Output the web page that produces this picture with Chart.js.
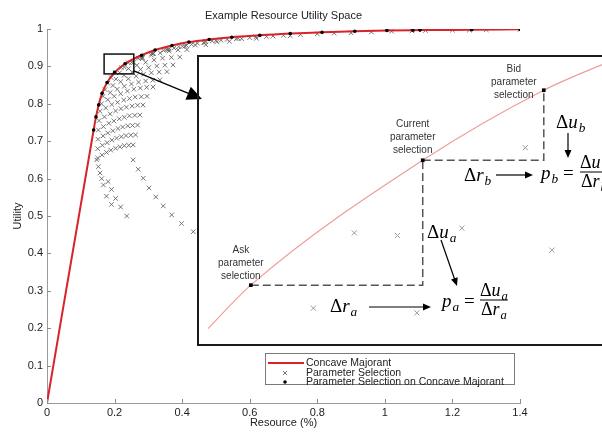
<!DOCTYPE html>
<html>
<head>
<meta charset="utf-8">
<script src="https://cdn.jsdelivr.net/npm/chart.js@4.4.1/dist/chart.umd.min.js"></script>
<style>
html, body { margin: 0; padding: 0; overflow: hidden; background: #fff; }
#wrap { position: relative; width: 602px; height: 432px; overflow: hidden; }
#main { position: absolute; left: 0; top: 0; }
#insetBox { position: absolute; left: 197px; top: 55px; width: 420px; height: 287px; border: 2px solid #1a1a1a; background: #fff; overflow: hidden; }
#inset { display: block; }
</style>
</head>
<body>
<div id="wrap">
<canvas id="main" width="602" height="432"></canvas>
<div id="insetBox"><canvas id="inset" width="420" height="287"></canvas></div>
</div>
<script>
// concave majorant (resource, utility)
const majorantX = [0, 0.138, 0.145, 0.153, 0.163, 0.178, 0.200, 0.231, 0.280, 0.320, 0.370, 0.420, 0.480, 0.547, 0.630, 0.720, 0.814, 0.911, 1.006, 1.104, 1.257, 1.400];
const majorantY = [0, 0.730, 0.765, 0.797, 0.828, 0.857, 0.884, 0.907, 0.930, 0.944, 0.956, 0.965, 0.972, 0.978, 0.983, 0.988, 0.991, 0.994, 0.996, 0.997, 0.998, 0.999];

// parameter selections, one row per sweep
const arcX = [
  [0.150, 0.163, 0.176, 0.189, 0.203, 0.216, 0.229, 0.242, 0.255],
  [0.150, 0.164, 0.178, 0.192, 0.206, 0.220, 0.234, 0.248, 0.262],
  [0.151, 0.166, 0.180, 0.195, 0.210, 0.224, 0.239, 0.253, 0.268],
  [0.152, 0.167, 0.183, 0.198, 0.214, 0.229, 0.244, 0.260, 0.275],
  [0.154, 0.170, 0.187, 0.203, 0.219, 0.235, 0.252, 0.268, 0.284],
  [0.157, 0.174, 0.192, 0.209, 0.227, 0.244, 0.261, 0.279, 0.296],
  [0.161, 0.180, 0.199, 0.218, 0.238, 0.257, 0.276, 0.295, 0.314],
  [0.166, 0.187, 0.208, 0.229, 0.250, 0.271, 0.292, 0.313, 0.334],
  [0.172, 0.195, 0.218, 0.241, 0.264, 0.286, 0.309, 0.332, 0.355],
  [0.180, 0.204, 0.228, 0.252, 0.277, 0.301, 0.325, 0.349, 0.373],
  [0.190, 0.215, 0.241, 0.266, 0.292, 0.317, 0.342, 0.368, 0.393],
  [0.203, 0.229, 0.256, 0.282, 0.309, 0.335, 0.361, 0.388, 0.414],
  [0.220, 0.251, 0.283, 0.314, 0.345, 0.376, 0.408, 0.439, 0.470],
  [0.240, 0.278, 0.315, 0.353, 0.390, 0.428, 0.465, 0.503, 0.540],
  [0.270, 0.314, 0.358, 0.401, 0.445, 0.489, 0.533, 0.576, 0.620],
  [0.310, 0.361, 0.413, 0.464, 0.515, 0.566, 0.618, 0.669, 0.720]
];
const arcY = [
  [0.655, 0.663, 0.670, 0.676, 0.681, 0.685, 0.688, 0.689, 0.690],
  [0.680, 0.689, 0.696, 0.703, 0.708, 0.712, 0.715, 0.716, 0.717],
  [0.705, 0.714, 0.722, 0.728, 0.734, 0.738, 0.741, 0.742, 0.743],
  [0.730, 0.739, 0.748, 0.754, 0.760, 0.764, 0.768, 0.769, 0.770],
  [0.755, 0.765, 0.773, 0.781, 0.787, 0.791, 0.794, 0.796, 0.797],
  [0.780, 0.789, 0.798, 0.804, 0.810, 0.814, 0.818, 0.819, 0.820],
  [0.800, 0.811, 0.820, 0.827, 0.834, 0.839, 0.842, 0.844, 0.845],
  [0.820, 0.830, 0.839, 0.847, 0.853, 0.858, 0.861, 0.863, 0.864],
  [0.838, 0.849, 0.859, 0.867, 0.874, 0.879, 0.883, 0.885, 0.886],
  [0.855, 0.866, 0.876, 0.885, 0.892, 0.897, 0.901, 0.903, 0.904],
  [0.870, 0.883, 0.894, 0.903, 0.911, 0.917, 0.922, 0.924, 0.925],
  [0.883, 0.898, 0.910, 0.921, 0.930, 0.936, 0.941, 0.944, 0.945],
  [0.897, 0.911, 0.924, 0.934, 0.943, 0.949, 0.954, 0.957, 0.958],
  [0.910, 0.923, 0.935, 0.945, 0.953, 0.959, 0.963, 0.966, 0.967],
  [0.922, 0.934, 0.945, 0.954, 0.962, 0.968, 0.972, 0.974, 0.975],
  [0.935, 0.946, 0.956, 0.964, 0.970, 0.975, 0.979, 0.981, 0.982]
];
const tailX = [0.147, 0.152, 0.157, 0.162, 0.167, 0.176, 0.181, 0.191, 0.203, 0.191, 0.218, 0.236, 0.255, 0.270, 0.285, 0.302, 0.322, 0.344, 0.369, 0.398, 0.433];
const tailY = [0.650, 0.632, 0.615, 0.600, 0.583, 0.553, 0.592, 0.571, 0.547, 0.531, 0.524, 0.500, 0.650, 0.625, 0.601, 0.575, 0.551, 0.527, 0.503, 0.480, 0.458];
const topX = [0.470, 0.500, 0.560, 0.600, 0.650, 0.700, 0.750, 0.800, 0.850, 0.900, 0.960, 1.020, 1.080, 1.120, 1.200, 1.250, 1.300, 1.400];
const topY = [0.966, 0.969, 0.974, 0.977, 0.980, 0.983, 0.985, 0.987, 0.989, 0.990, 0.992, 0.994, 0.995, 0.996, 0.997, 0.997, 0.998, 0.999];

// selections that sit on the majorant
const onX = [0.138, 0.145, 0.153, 0.163, 0.178, 0.200, 0.231, 0.280, 0.320, 0.370, 0.420, 0.480, 0.547, 0.630, 0.720, 0.814, 0.911, 1.006, 1.083, 1.104, 1.257, 1.400];
const onY = [0.730, 0.765, 0.797, 0.828, 0.857, 0.884, 0.907, 0.930, 0.944, 0.956, 0.965, 0.972, 0.978, 0.983, 0.988, 0.991, 0.994, 0.996, 0.9965, 0.997, 0.998, 0.999];

const xTicks = [0, 0.2, 0.4, 0.6, 0.8, 1, 1.2, 1.4];
const yTicks = [0, 0.1, 0.2, 0.3, 0.4, 0.5, 0.6, 0.7, 0.8, 0.9, 1];

// zoomed region shown in the inset
const zoomX = [0.169, 0.2601];
const zoomY = [0.88, 0.933];
const curveX = [0.1699, 0.1794, 0.2176, 0.2445, 0.2599];
const curveY = [0.8820, 0.8903, 0.9142, 0.9276, 0.9334];
const quoteNames = ['Ask', 'Current', 'Bid'];
const quoteX = [0.1794, 0.2176, 0.2445];
const quoteY = [0.8903, 0.9142, 0.9276];
const insetSelX = [0.2404, 0.2024, 0.2120, 0.2263, 0.2463, 0.1933, 0.2163];
const insetSelY = [0.9166, 0.9003, 0.8998, 0.9012, 0.8970, 0.8859, 0.8850];

const pts = (xs, ys) => xs.map((x, i) => ({ x: x, y: ys[i] }));
const selection = pts(arcX.flat(), arcY.flat()).concat(pts(tailX, tailY), pts(topX, topY));

const SANS = '"Liberation Sans", Arial, sans-serif';
const SERIF = '"Liberation Serif", "Times New Roman", serif';
const RED = '#d9232a';
const GREY_X = '#666';

// arrow from the zoom box to the inset, in page pixels
const POINTER_TIP = { x: 202, y: 99 };
const INSET_ORIGIN = { x: 199, y: 57 };

function arrowHead(ctx, x0, y0, x1, y1, len, half) {
  const a = Math.atan2(y1 - y0, x1 - x0);
  ctx.beginPath();
  ctx.moveTo(x1, y1);
  ctx.lineTo(x1 - len * Math.cos(a) + half * Math.sin(a), y1 - len * Math.sin(a) - half * Math.cos(a));
  ctx.lineTo(x1 - len * Math.cos(a) - half * Math.sin(a), y1 - len * Math.sin(a) + half * Math.cos(a));
  ctx.closePath();
  ctx.fill();
}

function arrow(ctx, x0, y0, x1, y1, len, half, lw) {
  const a = Math.atan2(y1 - y0, x1 - x0);
  ctx.save();
  ctx.strokeStyle = '#000';
  ctx.fillStyle = '#000';
  ctx.lineWidth = lw;
  ctx.beginPath();
  ctx.moveTo(x0, y0);
  ctx.lineTo(x1 - len * 0.8 * Math.cos(a), y1 - len * 0.8 * Math.sin(a));
  ctx.stroke();
  arrowHead(ctx, x0, y0, x1, y1, len, half);
  ctx.restore();
}

function drawPointer(ctx, startX, startY, ox, oy) {
  arrow(ctx, startX - ox, startY - oy, POINTER_TIP.x - ox, POINTER_TIP.y - oy, 15, 7, 1.2);
}

const tickLabel = v => String(Math.round(v * 10) / 10);

const mainDecor = {
  id: 'mainDecor',
  afterDraw(chart) {
    const { ctx, chartArea: ca, scales: { x, y } } = chart;
    ctx.save();
    // inward ticks
    ctx.strokeStyle = '#8c8c8c';
    ctx.lineWidth = 1;
    ctx.beginPath();
    xTicks.forEach(v => { const px = Math.round(x.getPixelForValue(v)) + 0.5; ctx.moveTo(px, ca.bottom); ctx.lineTo(px, ca.bottom - 4); });
    yTicks.forEach(v => { const py = Math.round(y.getPixelForValue(v)) + 0.5; ctx.moveTo(ca.left, py); ctx.lineTo(ca.left + 4, py); });
    ctx.stroke();

    // titles
    ctx.fillStyle = '#222';
    ctx.textAlign = 'center';
    ctx.textBaseline = 'middle';
    ctx.font = '11px ' + SANS;
    ctx.fillText('Example Resource Utility Space', (ca.left + ca.right) / 2, 16);
    ctx.fillText('Resource (%)', (ca.left + ca.right) / 2, 423);
    ctx.save();
    ctx.translate(18, (ca.top + ca.bottom) / 2);
    ctx.rotate(-Math.PI / 2);
    ctx.fillText('Utility', 0, 0);
    ctx.restore();

    // zoom box
    const bx0 = x.getPixelForValue(zoomX[0]), bx1 = x.getPixelForValue(zoomX[0] + (zoomX[1] - zoomX[0]) * 0.965);
    const by0 = y.getPixelForValue(zoomY[1]), by1 = y.getPixelForValue(zoomY[0]);
    ctx.strokeStyle = '#111';
    ctx.lineWidth = 1.5;
    ctx.strokeRect(bx0, by0, bx1 - bx0, by1 - by0);
    drawPointer(ctx, bx1, by1 - 3, 0, 0);

    // legend
    const ds = chart.data.datasets;
    const lx = 265, ly = 353, lw = 249, lh = 31;
    ctx.fillStyle = '#fff';
    ctx.fillRect(lx, ly, lw, lh);
    ctx.strokeStyle = '#7a7a7a';
    ctx.lineWidth = 1;
    ctx.strokeRect(lx + 0.5, ly + 0.5, lw, lh);
    const rows = [ly + 10, ly + 20, ly + 29];
    ctx.strokeStyle = RED;
    ctx.lineWidth = 2;
    ctx.beginPath(); ctx.moveTo(268, rows[0]); ctx.lineTo(304, rows[0]); ctx.stroke();
    ctx.strokeStyle = GREY_X;
    ctx.lineWidth = 0.9;
    ctx.beginPath();
    ctx.moveTo(283, rows[1] - 2); ctx.lineTo(287, rows[1] + 2);
    ctx.moveTo(287, rows[1] - 2); ctx.lineTo(283, rows[1] + 2);
    ctx.stroke();
    ctx.fillStyle = '#000';
    ctx.beginPath(); ctx.arc(285, rows[2], 1.8, 0, Math.PI * 2); ctx.fill();
    ctx.fillStyle = '#222';
    ctx.textAlign = 'left';
    ctx.font = '10.5px ' + SANS;
    ds.forEach((d, i) => ctx.fillText(d.label, 306, rows[i]));
    ctx.restore();
  }
};

new Chart(document.getElementById('main'), {
  type: 'scatter',
  data: {
    datasets: [{
      type: 'line',
      label: 'Concave Majorant',
      data: pts(majorantX, majorantY),
      borderColor: RED,
      borderWidth: 2,
      pointRadius: 0,
      cubicInterpolationMode: 'monotone',
      order: 1
    }, {
      label: 'Parameter Selection',
      data: selection,
      pointStyle: 'crossRot',
      pointRadius: 3.2,
      borderColor: GREY_X,
      borderWidth: 0.9,
      order: 2
    }, {
      label: 'Parameter Selection on Concave Majorant',
      data: pts(onX, onY),
      pointStyle: 'circle',
      pointRadius: 1.8,
      backgroundColor: '#000',
      borderWidth: 0,
      order: 0
    }]
  },
  options: {
    responsive: false,
    animation: false,
    devicePixelRatio: 1,
    layout: { padding: { top: 29, right: 82, left: 0, bottom: 0 } },
    plugins: { legend: { display: false }, tooltip: { enabled: false } },
    scales: {
      x: {
        type: 'linear', min: 0, max: 1.4,
        afterBuildTicks: s => { s.ticks = xTicks.map(v => ({ value: v })); },
        ticks: { font: { family: SANS, size: 11 }, color: '#222', padding: 3, maxRotation: 0, callback: tickLabel },
        grid: { display: false, drawTicks: false },
        border: { color: '#9a9a9a', width: 1 },
        afterFit: s => { s.height = 29; }
      },
      y: {
        type: 'linear', min: 0, max: 1,
        afterBuildTicks: s => { s.ticks = yTicks.map(v => ({ value: v })); },
        ticks: { font: { family: SANS, size: 11 }, color: '#222', padding: 4, callback: tickLabel },
        grid: { display: false, drawTicks: false },
        border: { color: '#9a9a9a', width: 1 },
        afterFit: s => { s.width = 47; }
      }
    }
  },
  plugins: [mainDecor]
});

// ---- inset ----
function mathWidth(ctx, parts, size) {
  let w = 0;
  parts.forEach(([t, st]) => {
    const fs = st === 's' ? size * 0.7 : size;
    ctx.font = (st === 'r' ? '' : 'italic ') + fs + 'px ' + SERIF;
    w += ctx.measureText(t).width + (st === 'i' ? 1 : 0);
  });
  return w;
}
function mathText(ctx, parts, x, y, size) {
  let cx = x;
  parts.forEach(([t, st]) => {
    const fs = st === 's' ? size * 0.7 : size;
    ctx.font = (st === 'r' ? '' : 'italic ') + fs + 'px ' + SERIF;
    ctx.fillText(t, cx, y + (st === 's' ? size * 0.3 : 0));
    cx += ctx.measureText(t).width + (st === 'i' ? 1 : 0);
  });
  return cx;
}
function fraction(ctx, num, den, x, barY, size) {
  const w = Math.max(mathWidth(ctx, num, size), mathWidth(ctx, den, size));
  mathText(ctx, num, x + (w - mathWidth(ctx, num, size)) / 2, barY - 9, size);
  mathText(ctx, den, x + (w - mathWidth(ctx, den, size)) / 2, barY + 10, size);
  ctx.fillRect(x, barY - 0.5, w, 1);
}

const DU_A = [['Δ', 'r'], ['u', 'i'], ['a', 's']];
const DR_A = [['Δ', 'r'], ['r', 'i'], ['a', 's']];
const DU_B = [['Δ', 'r'], ['u', 'i'], ['b', 's']];
const DR_B = [['Δ', 'r'], ['r', 'i'], ['b', 's']];

const insetDecor = {
  id: 'insetDecor',
  afterDraw(chart) {
    const { ctx, scales: { x, y } } = chart;
    ctx.save();
    // quote labels
    ctx.fillStyle = '#333';
    ctx.textAlign = 'center';
    ctx.textBaseline = 'middle';
    ctx.font = '10px ' + SANS;
    const labelOff = [[-10, -35], [-10, -36], [-30, -21]];
    quoteNames.forEach((n, i) => {
      const px = x.getPixelForValue(quoteX[i]) + labelOff[i][0];
      const py = y.getPixelForValue(quoteY[i]) + labelOff[i][1];
      [n, 'parameter', 'selection'].forEach((t, k) => ctx.fillText(t, px, py + k * 13));
    });

    // math annotations
    ctx.fillStyle = '#000';
    ctx.textAlign = 'left';
    mathText(ctx, DU_B, 357, 66, 19);
    arrow(ctx, 369, 76, 369, 101, 8, 3.5, 1.2);
    mathText(ctx, DR_B, 265, 119, 19);
    arrow(ctx, 297, 118, 334, 118, 8, 3.5, 1.2);
    let ex = mathText(ctx, [['p', 'i'], ['b', 's']], 342, 117, 19);
    mathText(ctx, [[' = ', 'r']], ex, 117, 19);
    fraction(ctx, DU_B, DR_B, 381, 115, 18);

    mathText(ctx, DU_A, 228, 176, 19);
    arrow(ctx, 242, 183, 258, 229, 8, 3.5, 1.2);
    mathText(ctx, DR_A, 131, 250, 19);
    arrow(ctx, 170, 250, 232, 250, 8, 3.5, 1.2);
    ex = mathText(ctx, [['p', 'i'], ['a', 's']], 243, 245, 19);
    mathText(ctx, [[' = ', 'r']], ex, 245, 19);
    fraction(ctx, DU_A, DR_A, 281, 243, 18);

    ctx.restore();
    drawPointer(ctx, 134, 71, INSET_ORIGIN.x, INSET_ORIGIN.y);
  }
};

new Chart(document.getElementById('inset'), {
  type: 'scatter',
  data: {
    datasets: [{
      type: 'line',
      data: pts(curveX, curveY),
      borderColor: '#ee9c9c',
      borderWidth: 1.2,
      pointRadius: 0,
      cubicInterpolationMode: 'monotone',
      order: 2
    }, {
      type: 'line',
      data: pts([quoteX[0], quoteX[1], quoteX[1]], [quoteY[0], quoteY[0], quoteY[1]]),
      borderColor: '#555',
      borderWidth: 1.5,
      borderDash: [8, 4],
      pointRadius: 0,
      order: 1
    }, {
      type: 'line',
      data: pts([quoteX[1], quoteX[2], quoteX[2]], [quoteY[1], quoteY[1], quoteY[2]]),
      borderColor: '#555',
      borderWidth: 1.5,
      borderDash: [8, 4],
      pointRadius: 0,
      order: 1
    }, {
      data: pts(insetSelX, insetSelY),
      pointStyle: 'crossRot',
      pointRadius: 3.6,
      borderColor: '#9a9a9a',
      borderWidth: 1,
      order: 3
    }, {
      data: pts(quoteX, quoteY),
      pointStyle: 'rect',
      pointRadius: 2.6,
      backgroundColor: '#000',
      borderColor: '#000',
      borderWidth: 0,
      order: 0
    }]
  },
  options: {
    responsive: false,
    animation: false,
    devicePixelRatio: 1,
    layout: { padding: 0 },
    plugins: { legend: { display: false }, tooltip: { enabled: false } },
    scales: {
      x: { type: 'linear', display: false, min: zoomX[0], max: zoomX[1] },
      y: { type: 'linear', display: false, min: zoomY[0], max: zoomY[1] }
    }
  },
  plugins: [insetDecor]
});
</script>
</body>
</html>
